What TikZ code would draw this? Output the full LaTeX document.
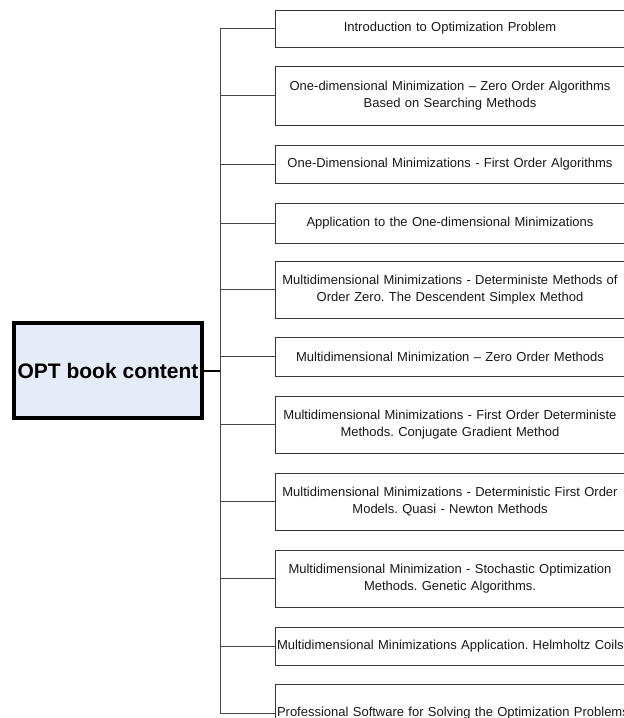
\documentclass[tikz,border=0pt]{standalone}
\usepackage{fontspec}
\setmainfont{Liberation Sans}
\frenchspacing
\definecolor{boxline}{RGB}{55,55,55}
\definecolor{conn}{RGB}{70,70,70}
\definecolor{mainfill}{RGB}{229,236,247}
\definecolor{txt}{RGB}{25,25,25}
\begin{document}
\begin{tikzpicture}[x=1pt,y=-1pt,
  topic/.style={draw=boxline, line width=0.9pt, fill=white, text=txt,
    minimum width=350pt, text width=346pt, inner xsep=2pt, inner ysep=0pt,
    align=center, font=\fontsize{13}{16.5}\selectfont},
  rootbox/.style={draw=black, line width=3.5pt, fill=mainfill,
    minimum width=188pt, minimum height=95pt, inner sep=0pt,
    font=\fontsize{21}{24}\selectfont\bfseries},
  branch/.style={draw=conn, line width=0.9pt},
  rootlink/.style={draw=black, line width=2pt}]
\useasboundingbox (0,0) rectangle (624,718);
\node[rootbox] (root) at (108,370.5) {OPT book content};
\node[topic, minimum height=37pt] (b1) at (450,28.5) {Introduction to Optimization Problem};
\node[topic, minimum height=59pt] (b2) at (450,95.5) {One-dimensional Minimization -- Zero Order Algorithms\\Based on Searching Methods};
\node[topic, minimum height=38pt] (b3) at (450,164) {One-Dimensional Minimizations - First Order Algorithms};
\node[topic, minimum height=40pt] (b4) at (450,223) {Application to the One-dimensional Minimizations};
\node[topic, minimum height=57pt] (b5) at (450,289.5) {Multidimensional Minimizations - Deterministe Methods of\\Order Zero. The Descendent Simplex Method};
\node[topic, minimum height=39pt] (b6) at (450,356.5) {Multidimensional Minimization -- Zero Order Methods};
\node[topic, minimum height=57pt] (b7) at (450,424.5) {Multidimensional Minimizations - First Order Deterministe\\Methods. Conjugate Gradient Method};
\node[topic, minimum height=57pt] (b8) at (450,501.5) {Multidimensional Minimizations - Deterministic First Order\\Models. Quasi - Newton Methods};
\node[topic, minimum height=57pt] (b9) at (450,578.5) {Multidimensional Minimization - Stochastic Optimization\\Methods. Genetic Algorithms.};
\node[topic, minimum height=38pt] (b10) at (450,646) {\mbox{Multidimensional Minimizations Application. Helmholtz Coils}};
\node[topic, minimum height=57pt] (b11) at (450,713) {\mbox{Professional Software for Solving the Optimization Problems}};
\coordinate (busTop) at (220,28.5);
\coordinate (busBot) at (220,713);
\draw[branch] (busTop) -- (busBot);
\foreach \b in {b1,b2,b3,b4,b5,b6,b7,b8,b9,b10,b11}
  \draw[branch] (\b.west) -- (\b.west -| busTop);
\draw[rootlink] (root.east) -- (root.east -| busTop);
\end{tikzpicture}
\end{document}
